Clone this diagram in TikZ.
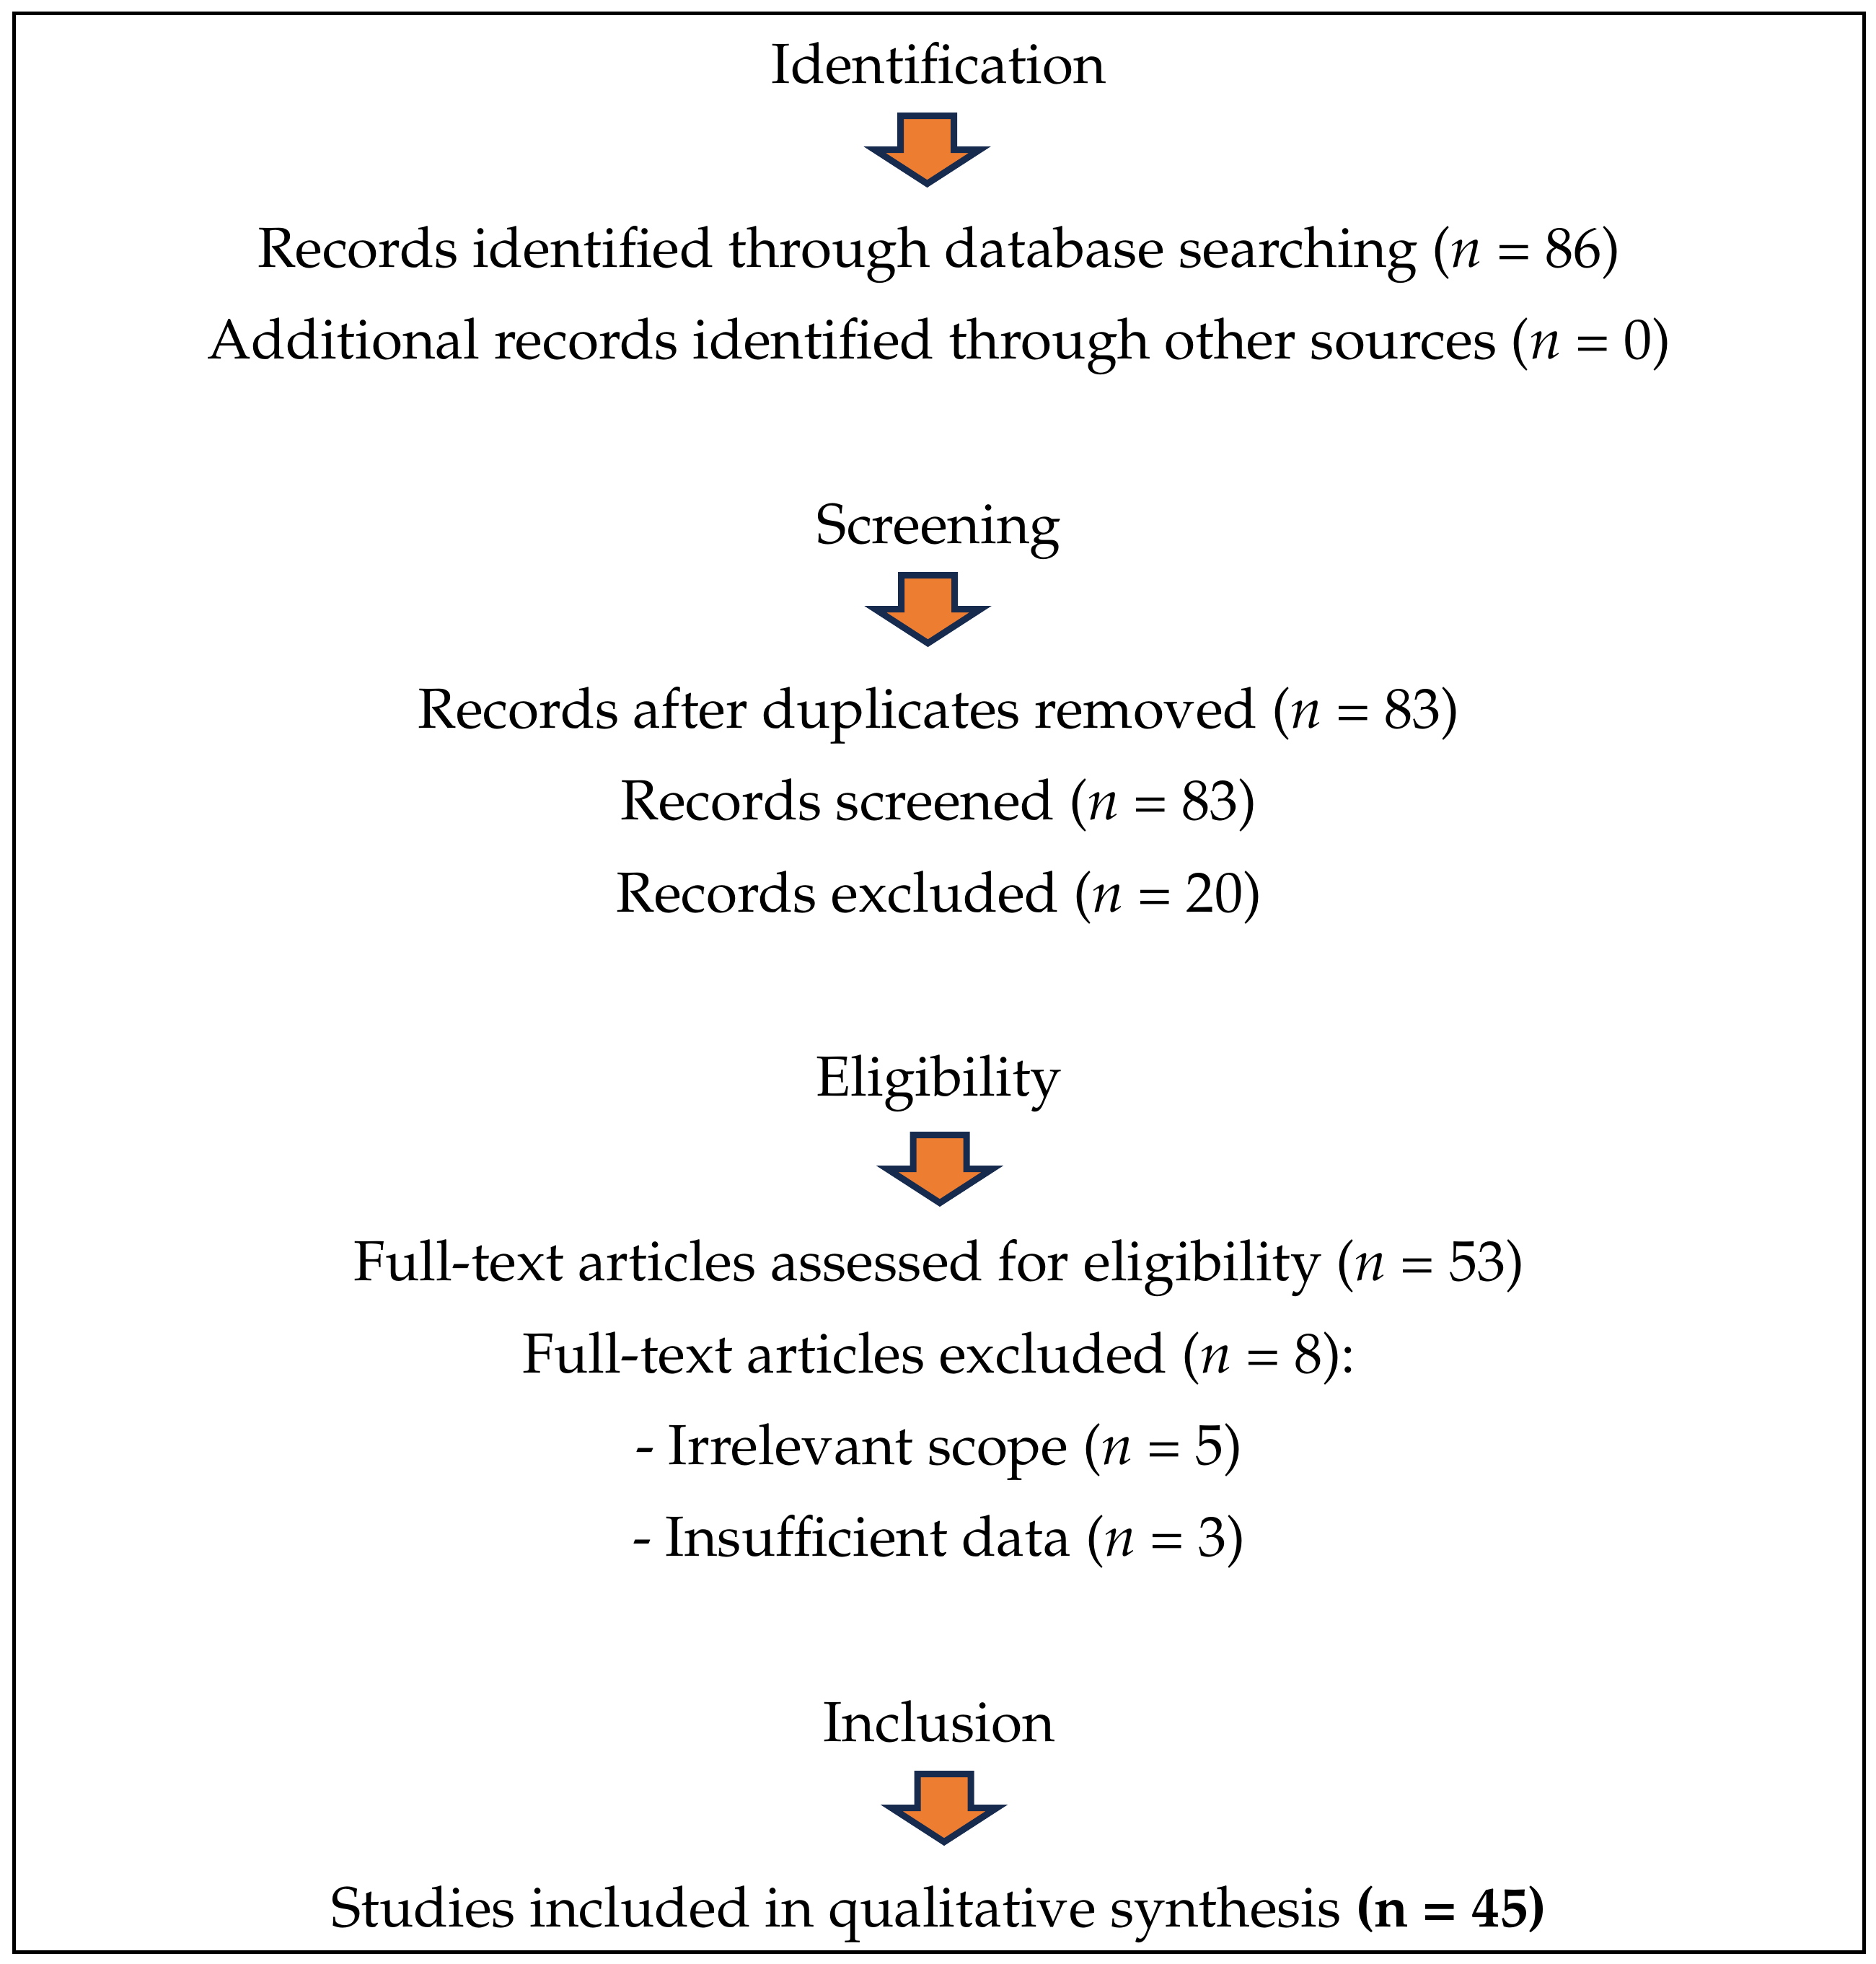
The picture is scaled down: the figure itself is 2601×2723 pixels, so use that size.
\documentclass[tikz,border=0pt]{standalone}
\usepackage[T1]{fontenc}
\usepackage{mathpazo}
\definecolor{arroworange}{HTML}{ED7D31}
\definecolor{arrownavy}{HTML}{172B4F}
\begin{document}
\begin{tikzpicture}[x=0.25pt,y=-0.25pt,
  txt/.style={anchor=base,inner sep=0pt,font=\fontsize{19.6}{24}\selectfont},
  frame/.style={draw=black,line width=1.25pt},
  downarrow/.pic={\path[fill=arroworange,draw=arrownavy,line width=2.25pt,line join=miter]
     (-37,4.5) -- (37,4.5) -- (37,51.5) -- (73,51.5) -- (0,98.7) -- (-73,51.5) -- (-37,51.5) -- cycle;}]
\useasboundingbox (0,0) rectangle (2601,2723);
\draw[frame] (19.5,18.5) rectangle (2584.5,2706.5);
% Identification
\node[txt] (ident) at (1302,115) {Identification};
\pic at (1285.5,156) {downarrow};
\node[txt] (rec1) at (1302,370) {Records identified through database searching (\textit{n} = 86)};
\node[txt] (rec2) at (1302,497) {Additional records identified through other sources (\textit{n} = 0)};
% Screening
\node[txt] (screen) at (1302,753) {Screening};
\pic at (1286.5,793) {downarrow};
\node[txt] (dup) at (1302,1009) {Records after duplicates removed (\textit{n} = 83)};
\node[txt] (scr) at (1302,1136) {Records screened (\textit{n} = 83)};
\node[txt] (exc) at (1302,1264) {Records excluded (\textit{n} = 20)};
% Eligibility
\node[txt] (elig) at (1302,1519) {Eligibility};
\pic at (1303,1569) {downarrow};
\node[txt] (ft1) at (1302,1775) {Full-text articles assessed for eligibility (\textit{n} = 53)};
\node[txt] (ft2) at (1302,1903) {Full-text articles excluded (\textit{n} = 8):};
\node[txt] (irr) at (1302,2030) {- Irrelevant scope (\textit{n} = 5)};
\node[txt] (ins) at (1302,2157) {- Insufficient data (\textit{n} = 3)};
% Inclusion
\node[txt] (incl) at (1302,2414) {Inclusion};
\pic at (1309,2455) {downarrow};
\node[txt] (stud) at (1302,2671) {Studies included in qualitative synthesis \textbf{(n = 45)}};
\end{tikzpicture}
\end{document}
